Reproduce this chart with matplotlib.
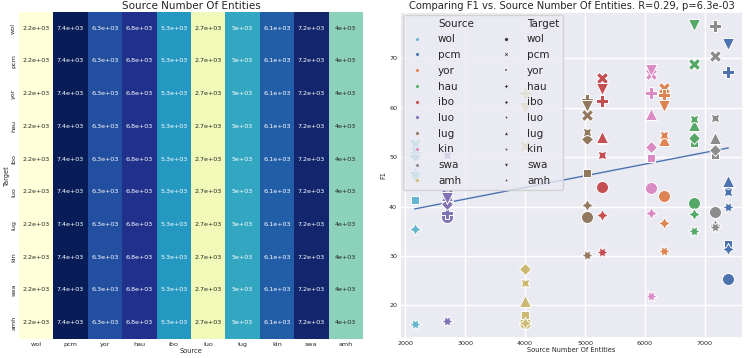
import numpy as np
import pandas as pd
import matplotlib
matplotlib.use("Agg")
import matplotlib.pyplot as plt
from matplotlib.lines import Line2D
import seaborn as sns

languages = ['wol', 'pcm', 'yor', 'hau', 'ibo', 'luo', 'lug', 'kin', 'swa', 'amh']
source_entities = [2160, 7390, 6320, 6820, 5290, 2705, 5035, 6100, 7160, 4000]

nan = np.nan
# F1 for each source language, targets in `languages` order
f1_wol = [nan, 52.6, 41.3, 50.8, 50.2, 35.5, 47.0, 51.5, 46.0, 16.3]
f1_pcm = [25.3, nan, 32.4, 67.2, 44.0, 31.5, 45.2, 43.0, 72.8, 40.0]
f1_yor = [42.2, 63.9, nan, 62.5, 53.8, 36.7, 53.4, 54.4, 60.3, 31.0]
f1_hau = [40.8, 68.9, 52.8, nan, 53.9, 38.4, 56.5, 57.8, 76.7, 35.0]
f1_ibo = [43.9, 66.1, 53.5, 61.4, nan, 38.3, 54.0, 50.5, 63.7, 30.7]
f1_luo = [37.8, 42.5, 41.0, 38.6, 40.5, nan, 42.3, 50.5, 41.7, 16.8]
f1_lug = [37.9, 58.5, 46.7, 61.5, 53.6, 40.3, nan, 55.1, 60.3, 30.2]
f1_kin = [43.7, 66.9, 49.9, 63.0, 52.1, 38.6, 58.8, nan, 67.7, 21.9]
f1_swa = [38.8, 70.5, 50.5, 76.5, 51.4, 36.3, 53.8, 58.0, nan, 35.8]
f1_amh = [16.5, 52.2, 18.1, 63.0, 27.3, 16.5, 20.9, 24.5, 60.0, nan]
f1_rows = [f1_wol, f1_pcm, f1_yor, f1_hau, f1_ibo, f1_luo, f1_lug, f1_kin, f1_swa, f1_amh]

source_colors = ['#64B5CD', '#4C72B0', '#DD8452', '#55A868', '#C44E52',
                 '#8172B3', '#937860', '#DA8BC3', '#8C8C8C', '#CCB974']
target_markers = ['o', 'X', (4, 0, 45), 'P', (4, 0, 0), (4, 1, 0), '^', (4, 1, 45), 'v', (6, 1, 30)]

sns.set_theme(style='darkgrid')
plt.rcParams['font.family'] = ['DejaVu Sans']

fig = plt.figure(figsize=(7.47, 3.58), dpi=100)

# ---------- Heatmap ----------
ax1 = fig.add_axes([0.0254, 0.053, 0.4605, 0.914])
heat = pd.DataFrame([source_entities] * len(languages), index=languages, columns=languages)
sns.heatmap(heat, ax=ax1, cmap='YlGnBu', annot=True, fmt='.2g', cbar=False,
            annot_kws={'fontsize': 4.6})
ax1.set_title('Source Number Of Entities', fontsize=7.5, pad=2)
ax1.set_xlabel('Source', fontsize=4.8, labelpad=1)
ax1.set_ylabel('Target', fontsize=4.8, labelpad=1)
ax1.tick_params(axis='both', labelsize=4.6, length=0, pad=2)
ax1.set_yticklabels(languages, rotation=90, va='center')
ax1.set_xticklabels(languages, rotation=0)

# ---------- Scatter ----------
ax2 = fig.add_axes([0.5355, 0.056, 0.4592, 0.911])
xs, ys = [], []
for si, src in enumerate(languages):
    for ti, tgt in enumerate(languages):
        v = f1_rows[si][ti]
        if np.isnan(v):
            continue
        ax2.scatter(source_entities[si], v, s=75, marker=target_markers[ti],
                    color=source_colors[si], edgecolor='white', linewidth=0.7, zorder=3)
        xs.append(source_entities[si])
        ys.append(v)
xs = np.array(xs, dtype=float)
ys = np.array(ys, dtype=float)
slope, intercept = np.polyfit(xs, ys, 1)
xl = np.array([xs.min(), xs.max()])
ax2.plot(xl, slope * xl + intercept, color='#4C72B0', linewidth=1.0, zorder=2)

ax2.set_xlim(1915, 7635)
ax2.set_ylim(13.4, 79.4)
ax2.set_xticks([2000, 3000, 4000, 5000, 6000, 7000])
ax2.set_yticks([20, 30, 40, 50, 60, 70])
ax2.tick_params(axis='both', labelsize=4.6, length=0, pad=2)
ax2.set_xlabel('Source Number Of Entities', fontsize=4.8, labelpad=1)
ax2.set_ylabel('F1', fontsize=4.8, labelpad=2)
ax2.set_title('Comparing F1 vs. Source Number Of Entities. R=0.29, p=6.3e-03',
              fontsize=7.2, pad=2)

handles, labels = [], []
handles.append(Line2D([], [], linestyle='none', marker=None))
labels.append('Source')
for c, lang in zip(source_colors, languages):
    handles.append(Line2D([], [], linestyle='none', marker='o', markersize=2.6,
                          markerfacecolor=c, markeredgecolor='white', markeredgewidth=0.3))
    labels.append(lang)
handles.append(Line2D([], [], linestyle='none', marker=None))
labels.append('Target')
for m, lang in zip(target_markers, languages):
    handles.append(Line2D([], [], linestyle='none', marker=m, markersize=2.6,
                          markerfacecolor='#333333', markeredgecolor='white', markeredgewidth=0.3))
    labels.append(lang)
leg = ax2.legend(handles, labels, ncol=2, loc='upper left', fontsize=7.5,
                 frameon=True, borderaxespad=0.3, handletextpad=1.0,
                 columnspacing=2.1, labelspacing=0.55, handlelength=2.0,
                 borderpad=0.35)

fig.savefig('out.png', dpi=100)
